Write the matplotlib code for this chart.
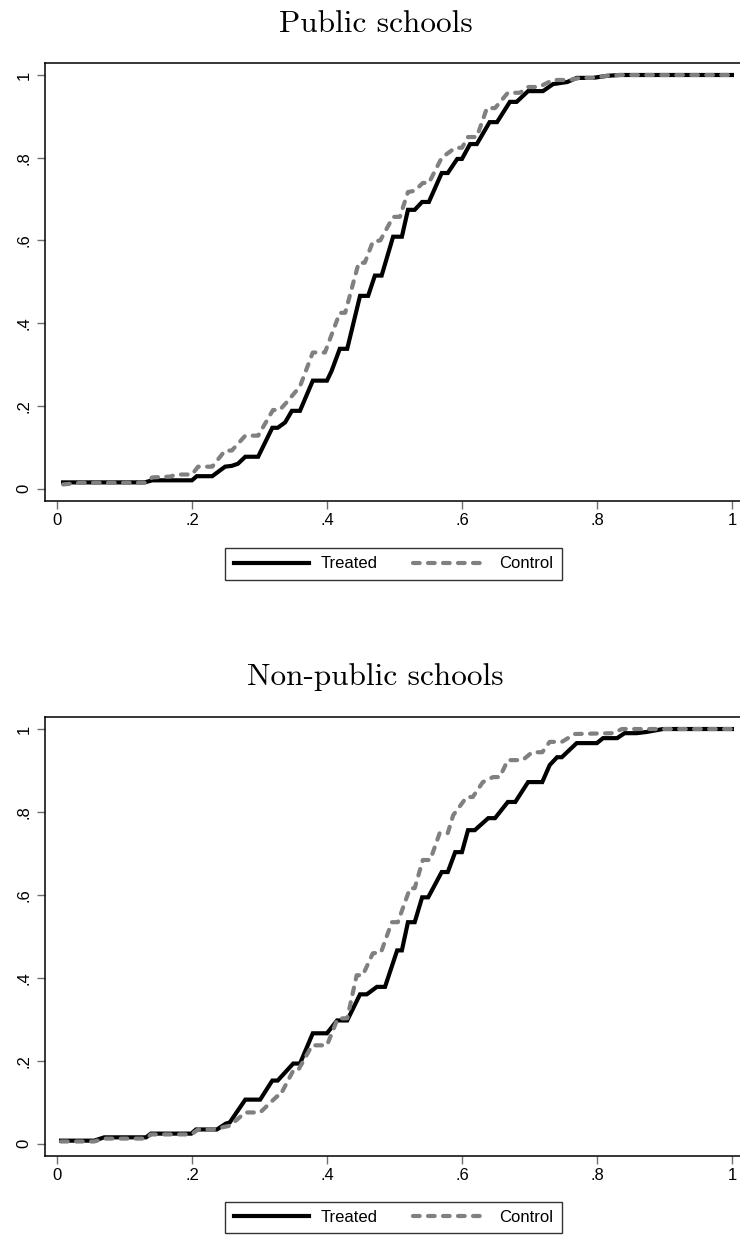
import matplotlib
matplotlib.use("Agg")
import matplotlib.pyplot as plt

# ── Data ──────────────────────────────────────────────────────────────────────
pub_treated_x = [0.009, 0.130, 0.141, 0.200, 0.207, 0.230, 0.249, 0.259, 0.268, 0.279,
                 0.298, 0.319, 0.327, 0.338, 0.348, 0.360, 0.379, 0.400, 0.407, 0.419,
                 0.430, 0.449, 0.461, 0.471, 0.481, 0.498, 0.511, 0.520, 0.530, 0.541,
                 0.551, 0.570, 0.579, 0.593, 0.600, 0.612, 0.622, 0.641, 0.652, 0.671,
                 0.681, 0.698, 0.720, 0.735, 0.756, 0.770, 0.794, 0.815, 0.834, 1.000]
pub_treated_y = [0.015, 0.015, 0.020, 0.020, 0.030, 0.030, 0.053, 0.055, 0.060, 0.077,
                 0.077, 0.147, 0.147, 0.160, 0.188, 0.188, 0.261, 0.261, 0.285, 0.338,
                 0.338, 0.466, 0.466, 0.515, 0.515, 0.609, 0.609, 0.674, 0.674, 0.693,
                 0.693, 0.763, 0.763, 0.797, 0.797, 0.833, 0.833, 0.886, 0.886, 0.935,
                 0.935, 0.961, 0.961, 0.978, 0.983, 0.993, 0.993, 0.998, 1.000, 1.000]

pub_control_x = [0.009, 0.034, 0.130, 0.141, 0.167, 0.178, 0.200, 0.209, 0.230, 0.249,
                 0.259, 0.279, 0.298, 0.320, 0.330, 0.341, 0.360, 0.379, 0.397, 0.419,
                 0.427, 0.447, 0.456, 0.468, 0.479, 0.498, 0.508, 0.520, 0.530, 0.542,
                 0.551, 0.570, 0.590, 0.600, 0.609, 0.622, 0.637, 0.649, 0.668, 0.686,
                 0.698, 0.714, 0.735, 0.760, 0.775, 0.794, 0.815, 0.834, 1.000]
pub_control_y = [0.010, 0.014, 0.014, 0.027, 0.029, 0.034, 0.034, 0.053, 0.053, 0.092,
                 0.092, 0.128, 0.128, 0.190, 0.190, 0.210, 0.247, 0.329, 0.329, 0.425,
                 0.425, 0.546, 0.546, 0.597, 0.600, 0.657, 0.657, 0.717, 0.720, 0.739,
                 0.739, 0.800, 0.824, 0.824, 0.850, 0.850, 0.920, 0.920, 0.957, 0.957,
                 0.971, 0.971, 0.988, 0.988, 0.993, 0.993, 0.998, 1.000, 1.000]

np_treated_x = [0.006, 0.055, 0.070, 0.132, 0.139, 0.199, 0.206, 0.237, 0.250, 0.256,
                0.279, 0.301, 0.319, 0.327, 0.350, 0.360, 0.379, 0.400, 0.415, 0.430,
                0.449, 0.459, 0.474, 0.486, 0.504, 0.511, 0.520, 0.530, 0.541, 0.550,
                0.570, 0.579, 0.590, 0.600, 0.609, 0.619, 0.639, 0.649, 0.668, 0.679,
                0.698, 0.719, 0.730, 0.741, 0.748, 0.770, 0.800, 0.809, 0.830, 0.841,
                0.859, 0.874, 0.898, 1.000]
np_treated_y = [0.007, 0.007, 0.015, 0.015, 0.024, 0.024, 0.034, 0.034, 0.048, 0.051,
                0.106, 0.106, 0.152, 0.152, 0.193, 0.193, 0.266, 0.266, 0.297, 0.297,
                0.360, 0.360, 0.378, 0.378, 0.466, 0.466, 0.534, 0.534, 0.594, 0.594,
                0.655, 0.655, 0.703, 0.703, 0.756, 0.756, 0.785, 0.785, 0.824, 0.824,
                0.872, 0.872, 0.913, 0.932, 0.932, 0.966, 0.966, 0.978, 0.978, 0.990,
                0.990, 0.993, 1.000, 1.000]

np_control_x = [0.006, 0.055, 0.070, 0.132, 0.139, 0.199, 0.209, 0.230, 0.256, 0.279,
                0.301, 0.326, 0.330, 0.350, 0.357, 0.378, 0.400, 0.416, 0.430, 0.444,
                0.453, 0.468, 0.480, 0.496, 0.505, 0.523, 0.530, 0.542, 0.553, 0.567,
                0.579, 0.587, 0.607, 0.616, 0.631, 0.646, 0.656, 0.668, 0.690, 0.704,
                0.719, 0.730, 0.748, 0.767, 0.824, 0.837, 1.000]
np_control_y = [0.005, 0.005, 0.012, 0.012, 0.022, 0.022, 0.034, 0.034, 0.043, 0.075,
                0.075, 0.114, 0.114, 0.176, 0.176, 0.237, 0.237, 0.302, 0.302, 0.406,
                0.406, 0.459, 0.461, 0.534, 0.534, 0.616, 0.616, 0.684, 0.684, 0.749,
                0.749, 0.792, 0.836, 0.836, 0.872, 0.884, 0.884, 0.925, 0.925, 0.944,
                0.944, 0.969, 0.969, 0.988, 0.990, 1.000, 1.000]

ticks = [0, 0.2, 0.4, 0.6, 0.8, 1.0]
tick_labels = ["0", ".2", ".4", ".6", ".8", "1"]
titles = ["Public schools", "Non-public schools"]

plt.rcParams["font.family"] = ["Liberation Sans", "DejaVu Sans"]

W, H = 740, 1237
fig = plt.figure(figsize=(W / 100, H / 100), dpi=100)


def px_axes(left, top, right, bottom):
    return fig.add_axes([left / W, 1 - bottom / H, (right - left) / W, (bottom - top) / H])


def draw_panel(ax, tx, ty, cx, cy, title, title_base, leg_center):
    ax.plot(tx, ty, color="black", lw=3.0, solid_joinstyle="miter", label="Treated")
    ax.plot(cx, cy, color="#808080", lw=3.0, dashes=(1.6, 2.0),
            dash_capstyle="round", label="Control")
    ax.set_xlim(-0.0178, 1.012)
    ax.set_ylim(-0.030, 1.029)
    ax.set_xticks(ticks)
    ax.set_xticklabels(tick_labels)
    ax.set_yticks(ticks)
    ax.set_yticklabels(tick_labels, rotation=90, va="center")
    ax.tick_params(direction="out", length=5.8, width=1.0, color="#707070",
                   labelsize=12, labelcolor="black")
    ax.tick_params(axis="x", pad=3)
    ax.tick_params(axis="y", pad=4)
    for s in ("left", "bottom", "top"):
        ax.spines[s].set_linewidth(1.1)
        ax.spines[s].set_color("black")
    ax.spines["right"].set_visible(False)

    fig.text(375.5 / W, 1 - title_base / H, title, family="cmr10", fontsize=22.5,
             ha="center", va="baseline")

    leg = fig.legend(*ax.get_legend_handles_labels(), loc="center",
                     bbox_to_anchor=(leg_center[0] / W, 1 - leg_center[1] / H),
                     ncol=2, fontsize=12, frameon=True, fancybox=False,
                     handlelength=4.5, handletextpad=0.7, columnspacing=2.1,
                     borderpad=0.5, borderaxespad=0)
    leg.get_frame().set_edgecolor("black")
    leg.get_frame().set_linewidth(1.0)


ax1 = px_axes(45, 63, 740, 501)
draw_panel(ax1, pub_treated_x, pub_treated_y, pub_control_x, pub_control_y,
           titles[0], 32, (393.5, 564))

ax2 = px_axes(45, 717, 740, 1156)
draw_panel(ax2, np_treated_x, np_treated_y, np_control_x, np_control_y,
           titles[1], 685, (393.5, 1217.5))

fig.savefig("out.png", dpi=100)
